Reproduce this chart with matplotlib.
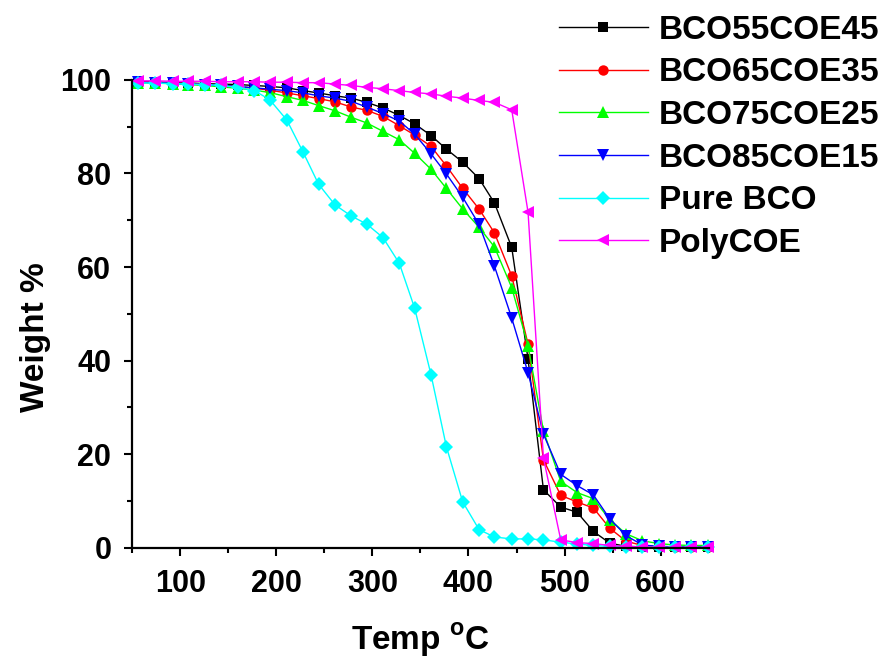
import numpy as np
import matplotlib
matplotlib.use("Agg")
import matplotlib.pyplot as plt
from matplotlib.ticker import MultipleLocator

plt.rcParams['font.family'] = ['Liberation Sans', 'DejaVu Sans']
plt.rcParams['font.weight'] = 'bold'
plt.rcParams['mathtext.fontset'] = 'custom'
plt.rcParams['mathtext.rm'] = 'Liberation Sans:bold'
plt.rcParams['mathtext.bf'] = 'Liberation Sans:bold'

# TGA curves, temperature in degC, remaining weight in %
temp = [56, 74, 92, 108, 126, 142, 160, 177, 193, 211, 228, 244, 261, 278, 294, 311, 328, 344,
        361, 377, 394, 411, 427, 445, 462, 478, 496, 513, 530, 547, 564, 581, 598, 615, 632, 649]

bco55 = [99.6, 99.5, 99.4, 99.3, 99.2, 99.1, 99.0, 98.8, 98.6, 98.3, 97.7, 97.2, 96.6, 96.1, 95.2, 94.0, 92.4, 90.6,
         88.1, 85.2, 82.4, 78.9, 73.7, 64.2, 40.3, 12.4, 8.7, 7.6, 3.5, 1.0, 0.3, 0.2, 0.1, 0.1, 0.1, 0.1]
bco65 = [99.6, 99.5, 99.4, 99.3, 99.1, 98.9, 98.6, 98.2, 97.8, 97.2, 96.6, 96.0, 95.3, 94.2, 93.5, 92.2, 90.2, 88.2,
         85.8, 81.6, 76.8, 72.4, 67.3, 58.1, 43.5, 18.8, 11.2, 9.8, 8.5, 4.2, 1.4, 0.5, 0.3, 0.2, 0.2, 0.2]
bco75 = [99.4, 99.3, 99.2, 99.0, 98.8, 98.5, 98.2, 97.8, 97.3, 96.4, 95.6, 94.5, 93.4, 92.0, 90.8, 89.0, 87.2, 84.3,
         80.9, 76.8, 72.4, 68.5, 64.3, 55.6, 43.2, 25.0, 14.2, 11.8, 10.5, 6.0, 3.0, 1.5, 0.9, 0.6, 0.5, 0.5]
bco85 = [99.5, 99.4, 99.3, 99.2, 99.0, 98.8, 98.6, 98.3, 98.0, 97.7, 97.2, 96.6, 96.1, 95.4, 94.2, 92.8, 91.2, 88.4,
         84.2, 79.9, 74.9, 69.1, 60.2, 49.1, 37.4, 24.3, 15.7, 13.3, 11.3, 6.2, 2.6, 0.6, 0.3, 0.2, 0.2, 0.2]
pure_bco = [99.4, 99.3, 99.2, 99.1, 99.0, 98.8, 98.4, 97.7, 95.8, 91.4, 84.5, 77.7, 73.3, 70.9, 69.2, 66.3, 60.8, 51.2,
            37.0, 21.6, 9.8, 3.9, 2.3, 1.9, 1.9, 1.7, 1.2, 0.8, 0.5, 0.3, 0.2, 0.2, 0.1, 0.1, 0.1, 0.1]
poly_coe = [99.8, 99.8, 99.7, 99.7, 99.7, 99.6, 99.6, 99.6, 99.5, 99.5, 99.4, 99.4, 99.1, 98.8, 98.4, 98.1, 97.7, 97.3,
            97.0, 96.5, 96.1, 95.6, 95.2, 93.6, 71.7, 19.2, 1.7, 1.1, 0.9, 0.5, 0.3, 0.2, 0.1, 0.1, 0.1, 0.1]

labels = ['BCO55COE45', 'BCO65COE35', 'BCO75COE25', 'BCO85COE15', 'Pure BCO', 'PolyCOE']
series = [bco55, bco65, bco75, bco85, pure_bco, poly_coe]
colors = ['#000000', '#ff0000', '#00ff00', '#0000ff', '#00ffff', '#ff00ff']
markers = ['s', 'o', '^', 'v', 'D', '<']
msizes = [7, 7.5, 8.5, 8.5, 7, 8.5]

fig = plt.figure(figsize=(8.87, 6.6), dpi=100)
ax = fig.add_axes([0.149, 0.170, 0.650, 0.709])

for y, lab, c, m, ms in zip(series, labels, colors, markers, msizes):
    ax.plot(temp, y, color=c, marker=m, markersize=ms, markeredgewidth=0,
            linewidth=1.0, label=lab, clip_on=False)

ax.set_xlim(50, 650)
ax.set_ylim(0, 100)
ax.set_xticks([100, 200, 300, 400, 500, 600])
ax.set_yticks([0, 20, 40, 60, 80, 100])
ax.xaxis.set_minor_locator(MultipleLocator(50))
ax.yaxis.set_minor_locator(MultipleLocator(10))

for s in ['top', 'right']:
    ax.spines[s].set_visible(False)
for s in ['left', 'bottom']:
    ax.spines[s].set_linewidth(1.6)

ax.tick_params(which='major', direction='out', length=6, width=1.5, labelsize=22, pad=9)
ax.tick_params(which='minor', direction='out', length=3.5, width=1.5)
for t in ax.get_xticklabels() + ax.get_yticklabels():
    t.set_fontweight('bold')

ax.set_xlabel(r'Temp $^{\mathrm{o}}$C', fontsize=24, fontweight='bold')
ax.set_ylabel('Weight %', fontsize=24, fontweight='bold')
ax.xaxis.set_label_coords(0.5, -0.158)
ax.yaxis.set_label_coords(-0.14, 0.45)

fig.legend(loc='upper left', bbox_to_anchor=(0.630, 0.978), frameon=False, numpoints=1,
           handlelength=2.67, handletextpad=0.33, labelspacing=0.35, borderpad=0.0,
           borderaxespad=0.0, prop={'size': 24, 'weight': 'bold'})

fig.savefig('out.png', dpi=100)
